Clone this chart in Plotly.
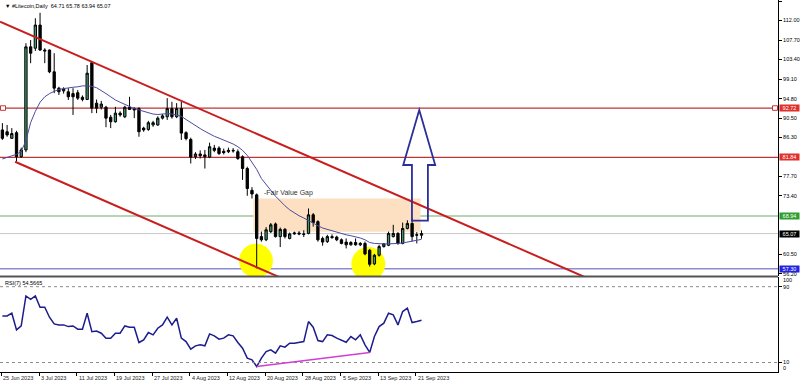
import plotly.graph_objects as go
import pandas as pd

# ---------------- data ----------------
FIRST_DAY = "2023-06-24"
OPEN = [87.9, 87.5, 86.05, 87.3, 82.0, 83.5, 106.2, 105.9, 111.0, 105.5,
        105.5, 100.7, 97.1, 96.5, 96.3, 95.9, 96.1, 95.1, 94.6, 102.7,
        93.8, 92.9, 92.9, 90.7, 89.7, 91.6, 90.8, 92.9, 92.6, 92.6,
        88.3, 88.0, 89.0, 89.0, 90.5, 90.8, 92.6, 90.8, 92.6, 87.3,
        85.8, 82.0, 82.6, 82.4, 81.9, 83.9, 83.9, 83.2, 83.1, 83.4,
        83.1, 82.0, 79.4, 74.6, 73.6, 64.4, 63.7, 65.5, 67.2, 64.4,
        66.0, 64.0, 65.0, 65.2, 65.0, 65.1, 69.2, 67.7, 64.0, 63.3,
        64.4, 64.3, 63.7, 63.2, 62.6, 63.1, 62.6, 62.9, 61.4, 58.4,
        60.3, 62.2, 62.5, 64.4, 65.1, 62.9, 66.2, 67.3, 64.7, 64.71]
HIGH = [89.4, 89.0, 88.3, 87.7, 84.0, 107.0, 107.7, 112.5, 113.7, 105.9,
        105.6, 104.8, 97.4, 97.3, 97.1, 97.1, 96.7, 95.5, 102.2, 102.9,
        94.6, 94.3, 93.2, 91.2, 93.0, 92.0, 93.2, 95.2, 92.9, 92.9,
        88.6, 89.9, 89.9, 90.9, 91.4, 94.9, 94.1, 93.8, 94.1, 87.6,
        86.2, 83.0, 83.4, 83.5, 85.1, 84.6, 84.3, 83.8, 84.0, 83.9,
        83.6, 82.3, 79.8, 75.3, 73.9, 65.5, 66.5, 67.4, 67.5, 66.4,
        66.3, 65.3, 65.5, 65.6, 65.8, 70.6, 69.6, 68.0, 64.4, 64.8,
        64.9, 64.6, 64.0, 64.0, 63.4, 64.0, 63.2, 63.3, 61.7, 60.6,
        62.6, 63.0, 65.5, 67.0, 65.4, 67.5, 68.0, 68.4, 65.4, 65.78]
LOW = [85.7, 86.4, 85.9, 80.9, 81.8, 83.0, 102.6, 105.3, 105.3, 102.6,
       100.4, 96.0, 95.6, 95.9, 94.5, 91.2, 94.5, 94.2, 94.5, 91.6,
       91.6, 92.4, 88.5, 88.3, 89.5, 90.8, 90.5, 92.3, 90.5, 86.4,
       87.5, 87.7, 88.6, 88.8, 90.2, 90.1, 90.4, 90.5, 85.7, 85.6,
       80.5, 81.5, 81.6, 79.4, 81.7, 83.0, 82.4, 82.5, 82.8, 82.9,
       81.3, 76.9, 73.4, 72.8, 57.4, 63.3, 63.4, 65.2, 64.2, 62.1,
       64.0, 63.8, 64.8, 64.7, 64.3, 64.9, 66.6, 63.3, 62.4, 63.0,
       63.9, 63.4, 62.7, 61.8, 62.4, 62.4, 62.3, 60.3, 57.8, 58.1,
       60.0, 62.0, 62.3, 64.2, 62.6, 62.7, 66.0, 63.3, 62.9, 63.94]
CLOSE = [86.05, 86.8, 87.1, 82.0, 83.5, 106.2, 104.8, 111.0, 105.5, 105.3,
         100.7, 97.1, 96.3, 96.9, 95.2, 95.2, 94.9, 94.6, 100.4, 92.7,
         92.7, 93.6, 90.5, 89.7, 91.6, 91.2, 92.9, 92.4, 92.3, 87.5,
         87.9, 89.5, 89.5, 90.5, 91.0, 92.6, 90.8, 92.6, 87.2, 86.0,
         81.9, 82.6, 82.2, 82.0, 84.2, 83.4, 82.7, 82.9, 83.4, 83.3,
         81.6, 79.4, 75.0, 73.8, 64.0, 63.7, 65.9, 67.0, 64.4, 66.0,
         64.4, 65.0, 65.2, 65.0, 64.9, 69.2, 67.5, 63.7, 63.2, 64.4,
         64.2, 63.7, 62.9, 62.6, 63.1, 62.6, 62.9, 60.6, 58.3, 60.3,
         62.2, 62.8, 65.1, 65.1, 62.9, 66.2, 67.3, 64.4, 64.8, 65.07]
MA = [81.5, 81.9, 82.2, 82.5, 83.2, 85.5, 89.5, 92.0, 94.0, 95.2,
      95.9, 96.4, 96.8, 97.0, 97.2, 97.3, 97.4, 97.6, 97.6, 97.5,
      97.2, 96.6, 95.9, 95.2, 94.5, 94.0, 93.5, 93.0, 92.6, 92.3,
      92.0, 91.7, 91.4, 91.3, 91.4, 91.5, 91.4, 91.2, 90.9, 90.2,
      89.5, 88.9, 88.2, 87.6, 87.0, 86.5, 86.1, 85.7, 85.3, 84.8,
      84.2, 83.4, 82.3, 80.8, 79.2, 77.2, 75.8, 74.6, 73.3, 72.2,
      71.2, 70.3, 69.6, 69.0, 68.5, 67.9, 67.3, 66.8, 66.3, 66.0,
      65.6, 65.3, 65.0, 64.8, 64.6, 64.4, 64.1, 63.7, 63.1, 62.9,
      62.8, 62.8, 62.8, 62.8, 62.9, 63.0, 63.2, 63.5, 63.7, 63.8]
RSI = [59.1, 59.1, 62.0, 44.4, 48.6, 80.2, 76.7, 80.2, 68.3, 68.3,
       57.8, 50.7, 49.7, 49.7, 47.9, 48.6, 45.2, 45.2, 62.0, 42.6,
       43.3, 40.9, 35.7, 35.7, 40.9, 40.9, 48.6, 47.2, 47.2, 31.1,
       33.9, 41.6, 39.2, 46.2, 49.7, 57.8, 49.7, 56.7, 35.7, 32.1,
       24.1, 27.6, 28.7, 27.6, 40.2, 38.1, 34.6, 35.7, 39.2, 38.1,
       31.1, 25.1, 14.6, 12.9, 5.8, 14.6, 21.6, 23.3, 19.8, 27.6,
       26.2, 30.4, 30.4, 31.1, 32.1, 53.2, 47.2, 33.2, 32.1, 39.2,
       38.5, 35.7, 33.2, 31.4, 37.4, 33.9, 39.2, 28.7, 20.6, 37.4,
       47.9, 51.5, 62.0, 60.3, 49.7, 63.8, 67.3, 52.2, 53.2, 54.5665]

DATE_LABELS = ["25 Jun 2023", "3 Jul 2023", "11 Jul 2023", "19 Jul 2023",
               "27 Jul 2023", "4 Aug 2023", "12 Aug 2023", "20 Aug 2023",
               "28 Aug 2023", "5 Sep 2023", "13 Sep 2023", "21 Sep 2023"]
PRICE_TICKS = [116.30, 112.00, 107.70, 103.40, 99.10, 94.80, 90.50, 86.30,
               77.70, 73.40, 60.50, 56.20]
LEVELS = [92.72, 81.84, 68.94, 65.07, 57.30]
LEVEL_LINE_COLORS = ["#c03434", "#c03434", "#9cc59c", "#c8c8c8", "#8c8cd0"]
LEVEL_LINE_WIDTHS = [1.2, 1.2, 1.5, 1, 1.5]
LEVEL_LABEL_BG = ["#e0302c", "#e0302c", "#2e9e2e", "#000000", "#2424e0"]
TITLE = "\u25BC #Litecoin,Daily  64.71 65.78 63.94 65.07"
RSI_TITLE = "RSI(7) 54.5665"
FVG_TEXT = "-Fair Value Gap"

# ---------------- x positions (days from 25 Jun 2023) ----------------
ORIGIN = pd.Timestamp("2023-06-25")
dates = pd.date_range(FIRST_DAY, periods=len(OPEN), freq="D")
X = [(d - ORIGIN).days for d in dates]
label_days = [(pd.Timestamp(s) - ORIGIN).days for s in DATE_LABELS]

FONT = "Liberation Sans, Arial, sans-serif"
W, H = 800, 385
ML, MR, MT, MB = 0, 22, 0, 13
PH = H - MT - MB
PRICE_DOM = [1 - 276 / PH, 1]
RSI_DOM = [0, 1 - 277.2 / PH]

fig = go.Figure()

fig.add_trace(go.Candlestick(
    x=X, open=OPEN, high=HIGH, low=LOW, close=CLOSE,
    increasing=dict(line=dict(color="#000000", width=1), fillcolor="#44956a"),
    decreasing=dict(line=dict(color="#000000", width=1), fillcolor="#000000"),
    whiskerwidth=0, xaxis="x", yaxis="y", hoverinfo="skip", showlegend=False))

fig.add_trace(go.Scatter(x=X, y=MA, mode="lines",
                         line=dict(color="#4b4ba0", width=1),
                         xaxis="x", yaxis="y", hoverinfo="skip", showlegend=False))

fig.add_trace(go.Scatter(x=X, y=RSI, mode="lines",
                         line=dict(color="#1c1c8c", width=1.5),
                         xaxis="x2", yaxis="y2", hoverinfo="skip", showlegend=False))

shapes = []
# Fair value gap box
shapes.append(dict(type="rect", xref="x", yref="y", x0=52.3, x1=87.8, y0=65.5, y1=72.8,
                   fillcolor="#fde0c2", line=dict(width=0), layer="below"))
# yellow highlight circles
for cx, cy in [(52.85, 59.1), (76.7, 58.37)]:
    shapes.append(dict(type="circle", xref="x", yref="y",
                       x0=cx - 3.6, x1=cx + 3.6, y0=cy - 3.75, y1=cy + 3.75,
                       fillcolor="#ffff00", line=dict(width=0), layer="below"))
# horizontal levels
for v, c, w in zip(LEVELS, LEVEL_LINE_COLORS, LEVEL_LINE_WIDTHS):
    shapes.append(dict(type="line", xref="paper", yref="y", x0=0, x1=1, y0=v, y1=v,
                       line=dict(color=c, width=w), layer="below"))
# small square handles on 92.72 line
for xp in [3 / 778, 775 / 778]:
    shapes.append(dict(type="rect", xref="paper", yref="y",
                       x0=xp - 2.5 / 778, x1=xp + 2.5 / 778, y0=LEVELS[0] - 0.5,
                       y1=LEVELS[0] + 0.5,
                       line=dict(color="#c03434", width=1), fillcolor="white"))
# channel lines
shapes.append(dict(type="line", xref="x", yref="y", x0=-1.51, y0=111.74, x1=125, y1=54.44,
                   line=dict(color="#c81e1e", width=2)))
shapes.append(dict(type="line", xref="x", yref="y", x0=1.7, y0=80.9, x1=58.5, y1=55.17,
                   line=dict(color="#c81e1e", width=2)))
# arrow
ax = dict(tip=(87.52, 92.29), base_y=80.18, hl=84.12, hr=90.91, sl=85.97, sr=89.36, bot=67.91)
path = (f"M {ax['tip'][0]},{ax['tip'][1]} L {ax['hr']},{ax['base_y']} L {ax['sr']},{ax['base_y']} "
        f"L {ax['sr']},{ax['bot']} L {ax['sl']},{ax['bot']} L {ax['sl']},{ax['base_y']} "
        f"L {ax['hl']},{ax['base_y']} Z")
shapes.append(dict(type="path", xref="x", yref="y", path=path,
                   line=dict(color="#2b2f9a", width=1.8)))
# panel separator
sep_y = 1 - 276.5 / PH
shapes.append(dict(type="line", xref="paper", yref="paper", x0=0, x1=1, y0=sep_y, y1=sep_y,
                   line=dict(color="#555555", width=2)))
# RSI levels
for v in [90, 10]:
    shapes.append(dict(type="line", xref="paper", yref="y2", x0=0, x1=1, y0=v, y1=v,
                       line=dict(color="#8c8c8c", width=1, dash="dot")))
# RSI divergence line
shapes.append(dict(type="line", xref="x2", yref="y2", x0=53, y0=RSI[54], x1=77, y1=RSI[78],
                   line=dict(color="#d040d0", width=1.5)))

ann = []
small = dict(family=FONT, size=5.5, color="#000000")
ann.append(dict(text=TITLE, xref="paper", yref="paper", x=0, y=1, xanchor="left",
                yanchor="top", xshift=3, yshift=-1, showarrow=False, font=small))
ann.append(dict(text=RSI_TITLE, xref="paper", yref="paper", x=0, y=RSI_DOM[1],
                xanchor="left", yanchor="top", xshift=3, yshift=-1, showarrow=False, font=small))
ann.append(dict(text=FVG_TEXT, xref="x", yref="y", x=54.05, y=73.94, xanchor="left",
                yanchor="middle", showarrow=False,
                font=dict(family=FONT, size=7, color="#333333")))
for v, bg in zip(LEVELS, LEVEL_LABEL_BG):
    ann.append(dict(text=f"{v:.2f}", xref="paper", yref="y", x=1, y=v, xanchor="left",
                    yanchor="middle", xshift=1, showarrow=False, bgcolor=bg,
                    width=19, height=6, borderpad=0,
                    font=dict(family=FONT, size=5.5, color="#ffffff")))
for d, s in zip(label_days, DATE_LABELS):
    ann.append(dict(text=s, xref="x2", yref="paper", x=d - 1.2, y=0, xanchor="left",
                    yanchor="top", yshift=-1, showarrow=False,
                    font=dict(family=FONT, size=5.5, color="#222222")))
for v, shift in [(100, -3), (0, 4)]:
    ann.append(dict(text=str(v), xref="paper", yref="y2", x=1, y=v, xanchor="left",
                    yanchor="middle", xshift=3, yshift=shift, showarrow=False, font=small))

xr = [-1.507, 163.7]
fig.update_layout(
    width=W, height=H, margin=dict(l=ML, r=MR, t=MT, b=MB),
    paper_bgcolor="white", plot_bgcolor="white", showlegend=False,
    font=dict(family=FONT, size=5.5, color="#000000"),
    shapes=shapes, annotations=ann, hovermode=False,
    xaxis=dict(domain=[0, 1], range=xr, anchor="y", showgrid=False, zeroline=False,
               showticklabels=False, ticks="", rangeslider=dict(visible=False),
               fixedrange=True),
    yaxis=dict(domain=PRICE_DOM, range=[116.52 - 276 / 4.54, 116.52], side="right",
               showgrid=False, zeroline=False, showline=True, mirror=True,
               linecolor="#000000", linewidth=1, ticks="outside", ticklen=3,
               tickcolor="#000000", tickvals=PRICE_TICKS,
               ticktext=[f"{t:.2f}" for t in PRICE_TICKS],
               tickfont=dict(family=FONT, size=5.5, color="#000000")),
    xaxis2=dict(domain=[0, 1], range=xr, anchor="y2", matches="x", showgrid=False,
                zeroline=False, showline=True, linecolor="#000000", linewidth=1,
                ticks="outside", ticklen=3, tickcolor="#000000",
                tickvals=[d - 1.2 for d in label_days], showticklabels=False),
    yaxis2=dict(domain=RSI_DOM, range=[0, 100], side="right", showgrid=False,
                zeroline=False, showline=True, mirror=True, linecolor="#000000",
                linewidth=1, ticks="outside", ticklen=3, tickcolor="#000000",
                tickvals=[90, 10], ticktext=["90", "10"],
                tickfont=dict(family=FONT, size=5.5, color="#000000")),
)

fig.write_html("out.html")
